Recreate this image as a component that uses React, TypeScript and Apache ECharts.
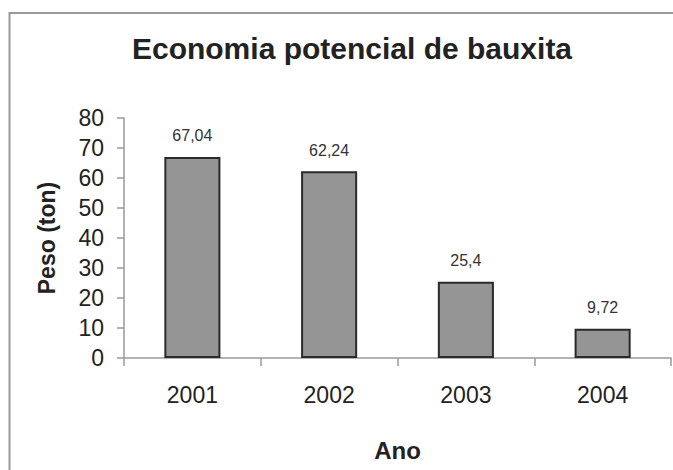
import React, { useEffect, useRef } from "react";
import * as echarts from "echarts";

const categories = ["2001", "2002", "2003", "2004"];
const values = [67.04, 62.24, 25.4, 9.72];
const yTicks = { min: 0, max: 80, interval: 10 };
const titleText = "Economia potencial de bauxita";
const xName = "Ano";
const yName = "Peso (ton)";

const FONT = "'Liberation Sans', Arial, Helvetica, sans-serif";

export default function App() {
  const ref = useRef<HTMLDivElement>(null);
  useEffect(() => {
    document.body.style.margin = "0";
    const chart = echarts.init(ref.current!, undefined, { renderer: "svg" });
    chart.setOption({
      animation: false,
      backgroundColor: "#ffffff",
      textStyle: { fontFamily: FONT },
      title: {
        text: titleText,
        left: 347,
        textAlign: "center",
        top: 28,
        textStyle: { fontFamily: FONT, fontSize: 30, fontWeight: "bold", color: "#222" },
      },
      graphic: [
        {
          type: "rect",
          shape: { x: 9.5, y: 13, width: 700, height: 500 },
          style: { fill: "none", stroke: "#999999", lineWidth: 2 },
          silent: true,
        },
      ],
      grid: { left: 124, right: 2, top: 118, bottom: 112, containLabel: false },
      xAxis: {
        type: "category",
        data: categories,
        name: xName,
        nameLocation: "middle",
        nameGap: 80,
        nameTextStyle: { fontFamily: FONT, fontSize: 24, fontWeight: "bold", color: "#222" },
        axisLine: { lineStyle: { color: "#9a9a9a", width: 1.5 } },
        axisTick: { show: true, length: 8, lineStyle: { color: "#9a9a9a", width: 1.5 } },
        axisLabel: { fontFamily: FONT, fontSize: 23, color: "#222", margin: 25 },
      },
      yAxis: {
        type: "value",
        min: yTicks.min,
        max: yTicks.max,
        interval: yTicks.interval,
        name: yName,
        nameLocation: "middle",
        nameGap: 66,
        nameRotate: 90,
        nameTextStyle: { fontFamily: FONT, fontSize: 23, fontWeight: "bold", color: "#222" },
        splitLine: { show: false },
        axisLine: { show: true, lineStyle: { color: "#9a9a9a", width: 1.5 } },
        axisTick: { show: true, length: 7, lineStyle: { color: "#9a9a9a", width: 1.5 } },
        axisLabel: { fontFamily: FONT, fontSize: 23, color: "#222", margin: 20 },
      },
      series: [
        {
          type: "bar",
          data: values,
          barWidth: "41%",
          itemStyle: { color: "#959595", borderColor: "#2a2a2a", borderWidth: 2 },
          label: {
            show: true,
            position: "top",
            distance: 13,
            fontFamily: FONT,
            fontSize: 16,
            color: "#333",
            formatter: (p: any) => String(p.value).replace(".", ","),
          },
        },
      ],
    });
    return () => chart.dispose();
  }, []);
  return (
    <div
      ref={ref}
      style={{ position: "fixed", left: 0, top: 0, width: 673, height: 470 }}
    />
  );
}
